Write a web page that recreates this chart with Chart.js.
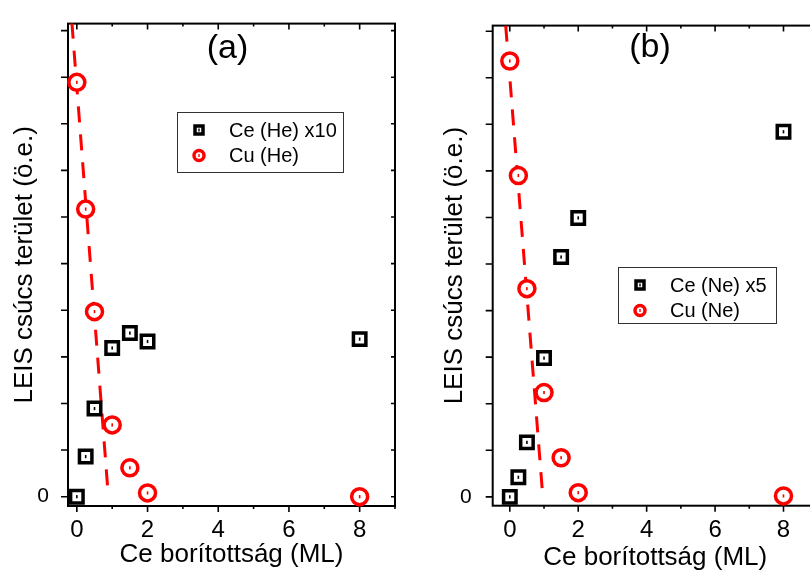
<!DOCTYPE html>
<html>
<head>
<meta charset="utf-8">
<title>LEIS csúcs terület</title>
<script src="https://cdn.jsdelivr.net/npm/chart.js@4.4.1/dist/chart.umd.min.js"></script>
<style>
  html, body { margin: 0; padding: 0; background: #fff; overflow: hidden; }
  body { width: 810px; height: 571px; position: relative; }
  .panel { position: absolute; top: 0; }
</style>
</head>
<body>
<canvas id="panel-a" class="panel" width="410" height="571" style="left:0"></canvas>
<canvas id="panel-b" class="panel" width="420" height="571" style="left:410px"></canvas>
<script>
// Ce coverage (ML), shared x values
const coverage = [0, 0.25, 0.5, 1, 1.5, 2, 8];

// panel (a) - He ions
const ceHe = [0, 0.86, 1.89, 3.19, 3.51, 3.33, 3.38];
const cuHe = [8.89, 6.17, 3.97, 1.54, 0.62, 0.08, 0.0];
const fitHeX = [-0.14, 0.89];
const fitHeY = [10.17, 0.02];

// panel (b) - Ne ions
const ceNe = [0, 0.42, 1.17, 2.98, 5.15, 5.99, 7.84];
const cuNe = [9.36, 6.90, 4.47, 2.24, 0.84, 0.09, 0.02];
const fitNeX = [-0.12, 0.95];
const fitNeY = [10.12, 0.14];

const xTickLabels = ['0', '2', '4', '6', '8'];
const yTickLabels = ['0'];

const FONT = "'Liberation Sans', Arial, Helvetica, sans-serif";
const RED = '#ff0000';
const BLACK = '#000000';

Chart.defaults.font.family = FONT;
Chart.defaults.color = BLACK;

const toPoints = (xs, ys) => xs.map((x, i) => ({ x, y: ys[i] }));

// frame, ticks, centre marks, panel letter and legend
const panelDecor = {
    id: 'panelDecor',
    beforeDatasetsDraw(chart) {
        const { ctx, chartArea: a, scales: { x, y } } = chart;
        ctx.save();
        ctx.strokeStyle = BLACK;
        ctx.lineWidth = 2;
        ctx.strokeRect(a.left, a.top, a.right - a.left, a.bottom - a.top);

        ctx.lineWidth = 1.6;
        ctx.beginPath();
        x.ticks.forEach(t => {
            const px = x.getPixelForValue(t.value);
            const len = t.value % 2 === 0 ? 6 : 3;
            ctx.moveTo(px, a.bottom); ctx.lineTo(px, a.bottom + len);
            ctx.moveTo(px, a.top); ctx.lineTo(px, a.top + len);
        });
        y.ticks.forEach(t => {
            const py = y.getPixelForValue(t.value);
            ctx.moveTo(a.left - 7, py); ctx.lineTo(a.left, py);
            ctx.moveTo(a.right, py); ctx.lineTo(a.right - 4, py);
        });
        ctx.stroke();
        ctx.restore();
    },
    afterDatasetsDraw(chart, args, opts) {
        const { ctx } = chart;
        ctx.save();

        // small centre dash inside each marker
        chart.data.datasets.forEach((ds, i) => {
            if (ds.showLine) return;
            ctx.fillStyle = ds.borderColor;
            chart.getDatasetMeta(i).data.forEach(pt => {
                ctx.fillRect(pt.x - 0.8, pt.y - 1.6, 1.6, 3.2);
            });
        });

        // panel letter
        ctx.fillStyle = BLACK;
        ctx.font = `34px ${FONT}`;
        ctx.textAlign = 'center';
        ctx.textBaseline = 'middle';
        ctx.fillText(opts.letter, opts.letterAt.x, opts.letterAt.y);

        // legend box
        const box = opts.legend;
        ctx.strokeStyle = '#333';
        ctx.lineWidth = 1;
        ctx.strokeRect(box.x + 0.5, box.y + 0.5, box.w, box.h);
        ctx.font = `20px ${FONT}`;
        ctx.textAlign = 'left';
        const entries = chart.data.datasets.filter(ds => !ds.showLine);
        entries.forEach((ds, i) => {
            const cy = box.y + 18 + i * 25.5;
            const cx = box.x + 22;
            ctx.strokeStyle = ds.borderColor;
            ctx.fillStyle = ds.borderColor;
            ctx.lineWidth = 3.5;
            ctx.beginPath();
            if (ds.pointStyle === 'rect') {
                ctx.rect(cx - 4, cy - 4, 8, 8);
            } else {
                ctx.arc(cx, cy, 5, 0, Math.PI * 2);
            }
            ctx.stroke();
            ctx.fillRect(cx - 0.7, cy - 1.5, 1.4, 3);
            ctx.fillStyle = BLACK;
            ctx.fillText(ds.label, box.x + 52, cy + 1);
        });
        ctx.restore();
    }
};

function markerSet(label, ys, color, style, order) {
    return {
        label,
        data: toPoints(coverage, ys),
        showLine: false,
        pointStyle: style,
        pointRadius: style === 'rect' ? 8.8 : 8,
        pointHoverRadius: style === 'rect' ? 8.8 : 8,
        pointBorderWidth: 3.5,
        borderColor: color,
        backgroundColor: '#ffffff',
        clip: false,
        order
    };
}

function fitSet(xs, ys) {
    return {
        label: '',
        data: toPoints(xs, ys),
        showLine: true,
        borderColor: RED,
        borderWidth: 3,
        borderDash: [16, 12],
        pointRadius: 0,
        fill: false,
        order: 5
    };
}

function makePanel(p) {
    return new Chart(document.getElementById(p.id), {
        type: 'scatter',
        data: {
            datasets: [
                markerSet(p.ceLabel, p.ce, BLACK, 'rect', 1),
                markerSet(p.cuLabel, p.cu, RED, 'circle', 2),
                fitSet(p.fitX, p.fitY)
            ]
        },
        options: {
            responsive: false,
            animation: false,
            devicePixelRatio: 1,
            layout: { padding: { left: 0, top: 15, right: p.padRight, bottom: 0 } },
            plugins: {
                legend: { display: false },
                tooltip: { enabled: false },
                panelDecor: { letter: p.letter, letterAt: p.letterAt, legend: p.legend }
            },
            scales: {
                x: {
                    type: 'linear',
                    min: p.xMin,
                    max: 9,
                    grid: { display: false },
                    border: { display: false },
                    ticks: {
                        stepSize: 1,
                        includeBounds: false,
                        autoSkip: false,
                        maxRotation: 0,
                        padding: 2,
                        font: { size: 24 },
                        callback: v => xTickLabels.includes(String(v)) ? String(v) : ''
                    },
                    title: {
                        display: true,
                        text: 'Ce borítottság (ML)',
                        font: { size: 26 },
                        padding: { top: 0, bottom: p.xTitlePad }
                    },
                    afterFit: s => { s.height = p.xHeight; }
                },
                y: {
                    type: 'linear',
                    min: p.yMin,
                    max: p.yMax,
                    grid: { display: false },
                    border: { display: false },
                    ticks: {
                        stepSize: 1,
                        includeBounds: false,
                        padding: p.yTickPad,
                        font: { size: 21 },
                        callback: v => yTickLabels.includes(String(v)) ? String(v) : ''
                    },
                    title: {
                        display: true,
                        text: 'LEIS csúcs terület (ö.e.)',
                        font: { size: 26 },
                        padding: { top: p.yTitlePad, bottom: 0 }
                    },
                    afterFit: s => { s.width = p.yWidth; }
                }
            }
        },
        plugins: [panelDecor]
    });
}

makePanel({
    id: 'panel-a',
    ceLabel: 'Ce (He) x10', cuLabel: 'Cu (He)',
    ce: ceHe, cu: cuHe, fitX: fitHeX, fitY: fitHeY,
    xMin: -0.25, yMin: -0.2, yMax: 10.15,
    yWidth: 68, xHeight: 65, padRight: 15,
    yTickPad: 11, yTitlePad: 9.5, xTitlePad: 1,
    letter: '(a)', letterAt: { x: 227.5, y: 48.5 },
    legend: { x: 177, y: 112, w: 166, h: 60 }
});

makePanel({
    id: 'panel-b',
    ceLabel: 'Ce (Ne) x5', cuLabel: 'Cu (Ne)',
    ce: ceNe, cu: cuNe, fitX: fitNeX, fitY: fitNeY,
    xMin: -0.5, yMin: -0.19, yMax: 10.12,
    yWidth: 82.7, xHeight: 65.3, padRight: 10.6,
    yTickPad: 13, yTitlePad: 29.5, xTitlePad: -2,
    letter: '(b)', letterAt: { x: 240, y: 47.5 },
    legend: { x: 208, y: 267, w: 158, h: 56 }
});
</script>
</body>
</html>
